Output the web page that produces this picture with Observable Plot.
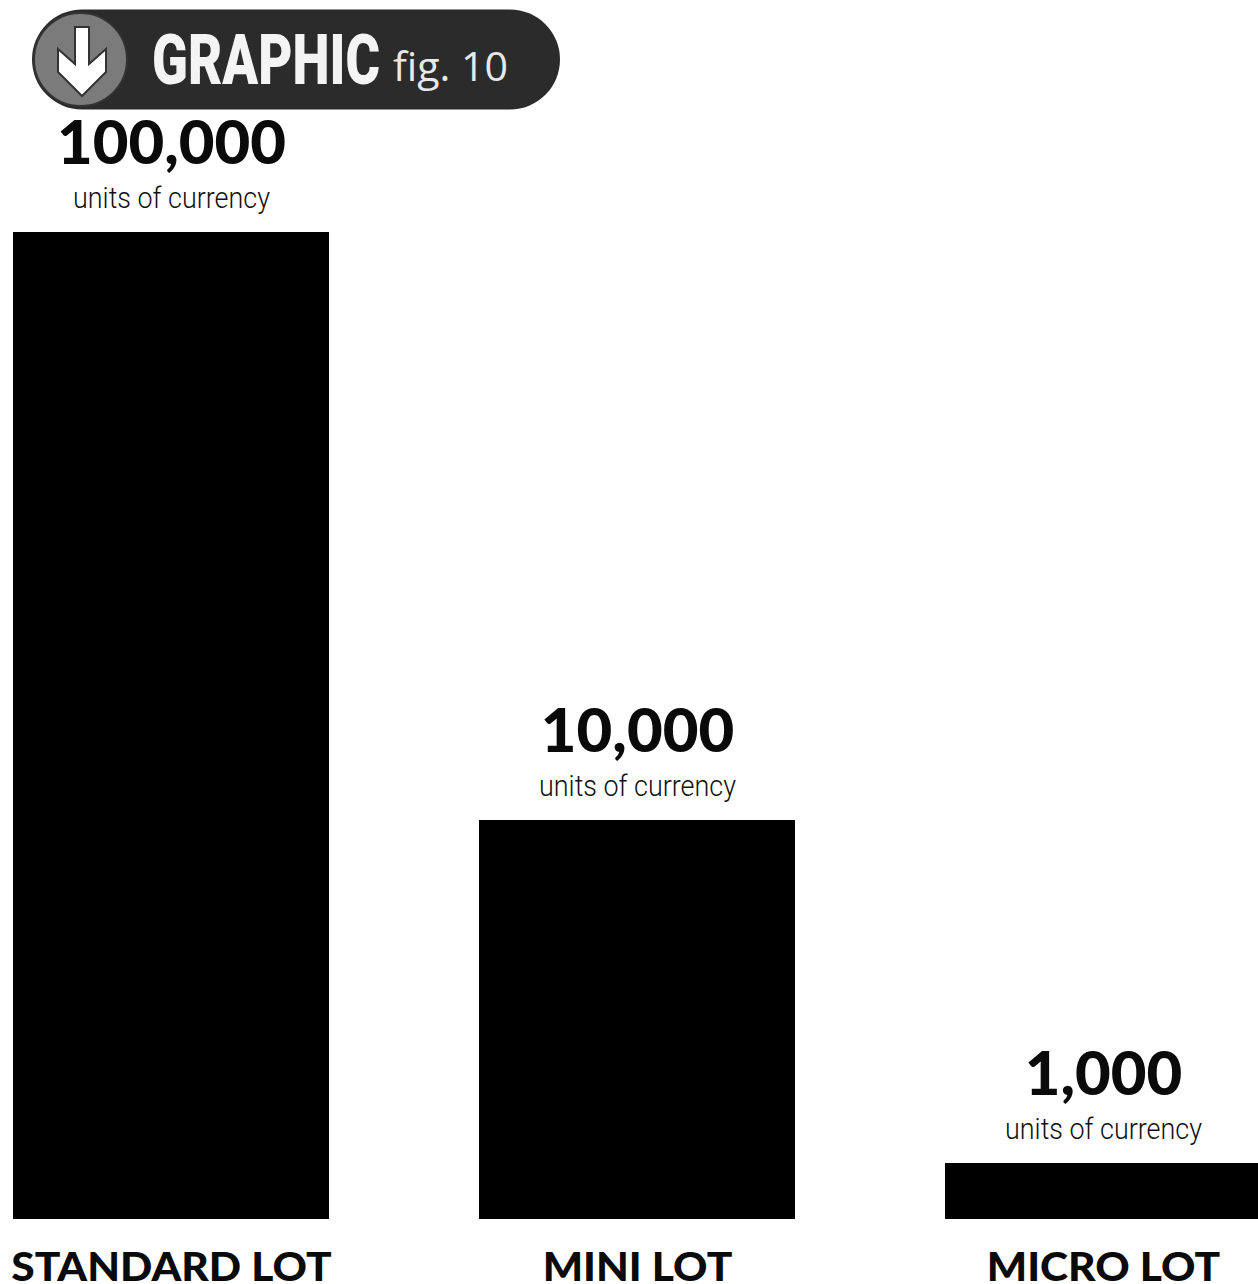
<!DOCTYPE html>
<html>
<head>
<meta charset="utf-8">
<script src="https://cdn.jsdelivr.net/npm/d3@7"></script>
<script src="https://cdn.jsdelivr.net/npm/@observablehq/plot@0.6"></script>
<style>
  html, body { margin: 0; padding: 0; background: #fff; }
  #badge { display: block; width: 1258px; height: 112px; }
  #chart svg { display: block; }
</style>
</head>
<body>
<svg id="badge" width="1258" height="112" viewBox="0 0 1258 112" role="img">
  <rect x="32" y="9.5" width="528" height="100" rx="50" fill="#2b2b2b"/>
  <circle cx="80.5" cy="59.5" r="46.5" fill="#7b7b7b" stroke="#333" stroke-width="2"/>
  <polygon points="75,27 89,27 89,64 106,49 106,72 82,96 58,72 58,49 75,64" fill="#fff" stroke="#333" stroke-width="2"/>
  <text id="badge-title" font-family="Roboto" font-weight="900" font-size="70" fill="#f4f4f4">GRAPHIC</text>
  <text x="393" y="81" font-family="'Open Sans'" font-weight="400" font-size="40" fill="#e8e8e8" textLength="115" lengthAdjust="spacingAndGlyphs">fig. 10</text>
</svg>
<div id="chart"></div>
<script>
// Lot sizes, in units of currency
const lots = ["STANDARD LOT", "MINI LOT", "MICRO LOT"];
const units = [100000, 10000, 1000];
const unitLabel = "units of currency";

const rows = lots.map((lot, i) => ({lot, value: units[i]}));

const chart = Plot.plot({
  width: 1258,
  height: 1172,
  marginTop: 0, marginRight: 0, marginBottom: 0, marginLeft: 0,
  style: {background: "#fff"},
  x: {
    domain: lots,
    range: [13, 1261],
    paddingInner: 0.322,
    paddingOuter: 0,
    axis: null
  },
  // The bars are not proportional: each lot size sits on its own stop
  y: {
    type: "linear",
    domain: [0, 1000, 10000, 100000],
    range: [1107, 1051, 708, 120],
    axis: null
  },
  marks: [
    Plot.barY(rows, {x: "lot", y: "value", fill: "#000"}),
    Plot.text(rows, {
      x: "lot", y: "value",
      text: (d) => d3.format(",")(d.value),
      dy: -69, lineAnchor: "bottom",
      fontFamily: "Lato", fontWeight: 900, fontSize: 60, fill: "#0a0a0a",
      className: "value-label"
    }),
    Plot.text(rows, {
      x: "lot", y: "value",
      text: () => unitLabel,
      dy: -25, lineAnchor: "bottom",
      fontFamily: "Roboto", fontWeight: 300, fontSize: 30, fill: "#111",
      className: "unit-label"
    }),
    Plot.text(rows, {
      x: "lot", y: () => 0,
      text: "lot",
      dy: 61, lineAnchor: "bottom",
      fontFamily: "Lato", fontWeight: 900, fontSize: 39, fill: "#0a0a0a",
      className: "lot-label"
    })
  ]
});
chart.setAttribute("overflow", "visible");
document.getElementById("chart").append(chart);

// Condense the unit captions and widen the numbers and lot names once they can be measured
chart.querySelectorAll(".unit-label text").forEach((t) => {
  t.setAttribute("textLength", 197);
  t.setAttribute("lengthAdjust", "spacingAndGlyphs");
});
chart.querySelectorAll(".value-label text").forEach((t) => {
  t.setAttribute("textLength", t.getComputedTextLength() * 1.027);
  t.setAttribute("lengthAdjust", "spacingAndGlyphs");
});
chart.querySelectorAll(".lot-label text").forEach((t) => {
  t.setAttribute("textLength", t.getComputedTextLength() * 1.09);
  t.setAttribute("lengthAdjust", "spacingAndGlyphs");
});

// Squeeze the badge title into its slot in the pill
const badgeTitle = document.getElementById("badge-title");
badgeTitle.setAttribute("transform", `translate(152,84) scale(${228 / badgeTitle.getComputedTextLength()},1)`);
</script>
</body>
</html>
